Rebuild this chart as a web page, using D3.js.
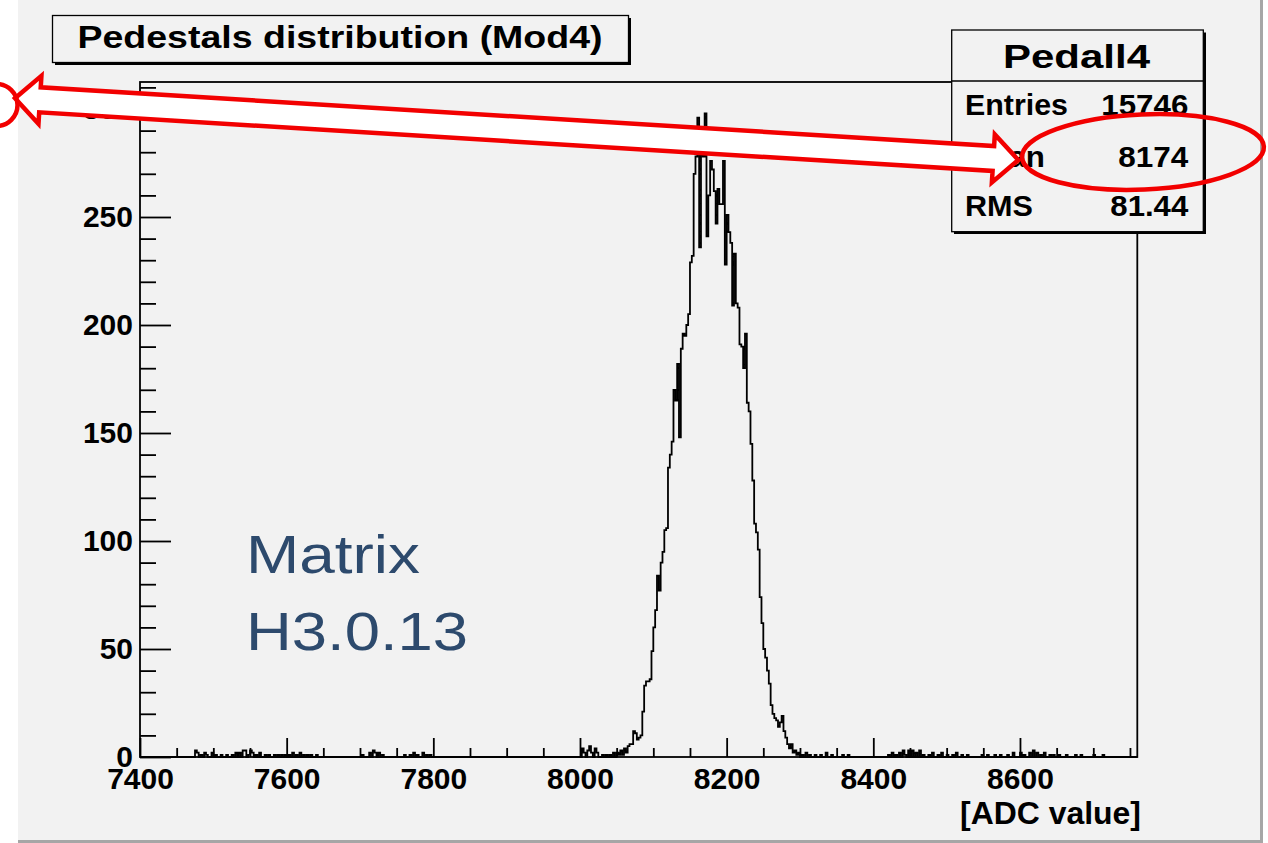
<!DOCTYPE html>
<html><head><meta charset="utf-8">
<script src="https://cdn.jsdelivr.net/npm/d3@7"></script>
<style>
html,body{margin:0;padding:0;background:#fff;}
svg text{font-family:"Liberation Sans",Arial,sans-serif;}
</style></head>
<body>
<svg id="c" width="1268" height="843"></svg>
<script>
// ---------------- data ----------------
const xDomain = [7400, 8760];
const yDomain = [0, 312.5];
const binWidth = 2.5;
const xMajorTicks = [7400, 7600, 7800, 8000, 8200, 8400, 8600];
const yMajorTicks = [0, 50, 100, 150, 200, 250, 300];
const titleText = "Pedestals distribution (Mod4)";
const xAxisTitle = "[ADC value]";
const statsName = "Pedall4";
const statLabels = ["Entries", "Mean", "RMS"];
const statValues = ["15746", "8174", "81.44"];
const noteLines = ["Matrix", "H3.0.13"];

// peak region, bins of 2.5 starting at 8050
const peakStart = 8050;
const peakCounts = [2,1,3,1,4,2,5,6,6,12,11,8,9,10,21,33,35,35,36,49,
  60,68,84,77,90,95,105,106,134,140,146,170,165,182,148,189,196,195,200,205,
  229,232,270,278,296,236,279,278,298,241,260,276,272,262,247,263,256,256,276,228,
  251,243,238,209,233,210,208,191,190,180,196,164,160,145,128,108,104,96,74,62,
  50,46,40,34,24,20,18,17,14,16,19,12,9,6,4,6,2,3,1,2];

// sparse noise bins (bin start, count)
const noiseStarts = [7475,7477.5,7482.5,7487.5,7490,7497.5,7502.5,7510,7517.5,7525,7530,7535,7540,7542.5,7547.5,7550,7552.5,7557.5,7562.5,7570,7575,7582.5,7587.5,7592.5,7597.5,7602.5,7607.5,7612.5,7617.5,7622.5,7627.5,7632.5,7640,
  7702.5,7712.5,7717.5,7720,7725,7730,
  7760,7767.5,7772.5,7777.5,7785,7790,7795,
  8002.5,8005,8010,8012.5,8015,8020,8022.5,8030,8035,8040,8045,
  8302.5,8307.5,8312.5,8320,8327.5,8335,8342.5,8357.5,8365,
  8420,8425,8430,8435,8440,8442.5,8447.5,8452.5,8457.5,8462.5,8467.5,8475,8480,8487.5,8492.5,8500,8507.5,8512.5,8520,8527.5,
  8547.5,8555,8565,8572.5,8582.5,8590,8600,8605,8612.5,8617.5,8622.5,8627.5,8632.5,8640,8645,8652.5,8662.5,8675,8682.5,8700,8712.5];
const noiseCounts = [3,2,1,2,1,2,1,1,1,1,2,2,3,3,1,3,2,1,2,1,1,1,1,1,1,1,2,1,2,1,1,1,1,
  1,2,3,2,2,1,
  1,1,2,1,2,1,1,
  4,2,3,5,2,4,2,1,1,1,2,
  1,2,1,1,1,2,1,1,1,
  1,2,1,2,3,1,3,3,2,3,1,1,2,1,2,1,1,2,1,1,
  1,1,1,1,1,2,2,1,2,3,2,1,2,1,1,1,1,1,1,1,1];

// ---------------- drawing ----------------
const svg = d3.select("#c");
const x = d3.scaleLinear().domain(xDomain).range([140, 1137.3]);
const y = d3.scaleLinear().domain(yDomain).range([757, 82]);

// canvas
svg.append("rect").attr("x",18).attr("y",0).attr("width",1243).attr("height",841).attr("fill","#f2f2f2");
svg.append("line").attr("x1",1261.5).attr("x2",1261.5).attr("y1",0).attr("y2",843).attr("stroke","#a6a6a6").attr("stroke-width",3);
svg.append("line").attr("x1",18).attr("x2",1263).attr("y1",841.5).attr("y2",841.5).attr("stroke","#a6a6a6").attr("stroke-width",3);

// dense counts
const nBins = Math.round((xDomain[1]-xDomain[0])/binWidth);
const counts = new Array(nBins).fill(0);
peakCounts.forEach((c,k)=>{ counts[Math.round((peakStart-xDomain[0])/binWidth)+k] = c; });
noiseStarts.forEach((s,k)=>{ counts[Math.round((s-xDomain[0])/binWidth)] = noiseCounts[k]; });
const pts = counts.map((c,i)=>[xDomain[0]+i*binWidth, c]);
pts.push([xDomain[1], counts[nBins-1]]);

// histogram
svg.append("path")
  .attr("d", d3.line().x(d=>x(d[0])).y(d=>y(d[1])).curve(d3.curveStepAfter)(pts))
  .attr("fill","none").attr("stroke","#000").attr("stroke-width",1.8);

// frame
svg.append("rect").attr("x",140).attr("y",82).attr("width",997.3).attr("height",675)
  .attr("fill","none").attr("stroke","#000").attr("stroke-width",1.8);

const fontAxis = "bold 30px 'Liberation Sans', Arial, sans-serif";

// y axis
const yMinor = d3.range(0, 311, 10).filter(v=>v%50!==0);
const gyMinor = svg.append("g").attr("transform","translate(140,0)")
  .call(d3.axisLeft(y).tickValues(yMinor).tickFormat("").tickSizeInner(-16).tickSizeOuter(0));
gyMinor.select(".domain").remove();
const gy = svg.append("g").attr("transform","translate(140,0)")
  .call(d3.axisLeft(y).tickValues(yMajorTicks).tickFormat(d3.format("d")).tickSizeInner(-31).tickSizeOuter(0).tickPadding(7));
gy.select(".domain").remove();

// x axis
const xMinor = d3.range(7400, 8751, 50).filter(v=>v%200!==0);
const gxMinor = svg.append("g").attr("transform","translate(0,757)")
  .call(d3.axisBottom(x).tickValues(xMinor).tickFormat("").tickSizeInner(-9).tickSizeOuter(0));
gxMinor.select(".domain").remove();
const gx = svg.append("g").attr("transform","translate(0,757)")
  .call(d3.axisBottom(x).tickValues(xMajorTicks).tickFormat(d3.format("d")).tickSizeInner(-19).tickSizeOuter(0).tickPadding(11));
gx.select(".domain").remove();

svg.selectAll(".tick line").attr("stroke","#000").attr("stroke-width",1.8);
svg.selectAll(".tick text").style("font", fontAxis).attr("fill","#000");

svg.append("text").attr("x",960).attr("y",824).text(xAxisTitle)
  .style("font","bold 31px 'Liberation Sans', Arial, sans-serif").attr("textLength",181).attr("lengthAdjust","spacingAndGlyphs");

// title box
svg.append("rect").attr("x",55).attr("y",18).attr("width",576).attr("height",47).attr("fill","#000");
svg.append("rect").attr("x",52.5).attr("y",15.5).attr("width",576).attr("height",47).attr("fill","#f2f2f2").attr("stroke","#000").attr("stroke-width",1.3);
svg.append("text").attr("x",77.5).attr("y",48).text(titleText)
  .style("font","bold 32px 'Liberation Sans', Arial, sans-serif").attr("textLength",525).attr("lengthAdjust","spacingAndGlyphs");

// stats box
svg.append("rect").attr("x",954).attr("y",32.5).attr("width",252).attr("height",201.5).attr("fill","#000");
svg.append("rect").attr("x",951.7).attr("y",30).attr("width",251.6).attr("height",201.7).attr("fill","#f2f2f2").attr("stroke","#000").attr("stroke-width",1.3);
svg.append("line").attr("x1",951.7).attr("x2",1203.3).attr("y1",81).attr("y2",81).attr("stroke","#000").attr("stroke-width",1.3);
svg.append("text").attr("x",1003).attr("y",68).text(statsName)
  .style("font","bold 34px 'Liberation Sans', Arial, sans-serif").attr("textLength",147).attr("lengthAdjust","spacingAndGlyphs");
const statBase = [115, 167, 216];
const labelLen = [103, 80, 68];
const valueLen = [87, 70, 78];
statLabels.forEach((t,i)=>{
  svg.append("text").attr("x",965).attr("y",statBase[i]).text(t)
    .style("font","bold 29px 'Liberation Sans', Arial, sans-serif").attr("textLength",labelLen[i]).attr("lengthAdjust","spacingAndGlyphs");
  svg.append("text").attr("x",1188.3-valueLen[i]).attr("y",statBase[i]).text(statValues[i])
    .style("font","bold 29px 'Liberation Sans', Arial, sans-serif").attr("textLength",valueLen[i]).attr("lengthAdjust","spacingAndGlyphs");
});

// note text
const noteBase = [573, 650];
const noteLen = [174, 222];
noteLines.forEach((t,i)=>{
  svg.append("text").attr("x",246).attr("y",noteBase[i]).text(t).attr("fill","#2d4a6d")
    .style("font","54px 'Liberation Sans', Arial, sans-serif").attr("textLength",noteLen[i]).attr("lengthAdjust","spacingAndGlyphs");
});

// red annotations
const red = "#f20000";
const L = 1005.2;
const arrowPts = [[0,0],[25,-24],[25,-12.5],[L-25,-12.5],[L-25,-24],[L,0],[L-25,24],[L-25,12.5],[25,12.5],[25,24]];
svg.append("path").attr("transform","translate(15,98.3) rotate(3.52)")
  .attr("d", d3.line()(arrowPts)+"Z")
  .attr("fill","#fff").attr("stroke",red).attr("stroke-width",4.5).attr("stroke-linejoin","miter");
svg.append("ellipse").attr("transform","translate(1143,152) rotate(-2.5)")
  .attr("cx",0).attr("cy",0).attr("rx",121).attr("ry",37.5)
  .attr("fill","none").attr("stroke",red).attr("stroke-width",4.5);
svg.append("circle").attr("cx",-3.5).attr("cy",105).attr("r",21)
  .attr("fill","none").attr("stroke",red).attr("stroke-width",4.5);
</script>
</body></html>
